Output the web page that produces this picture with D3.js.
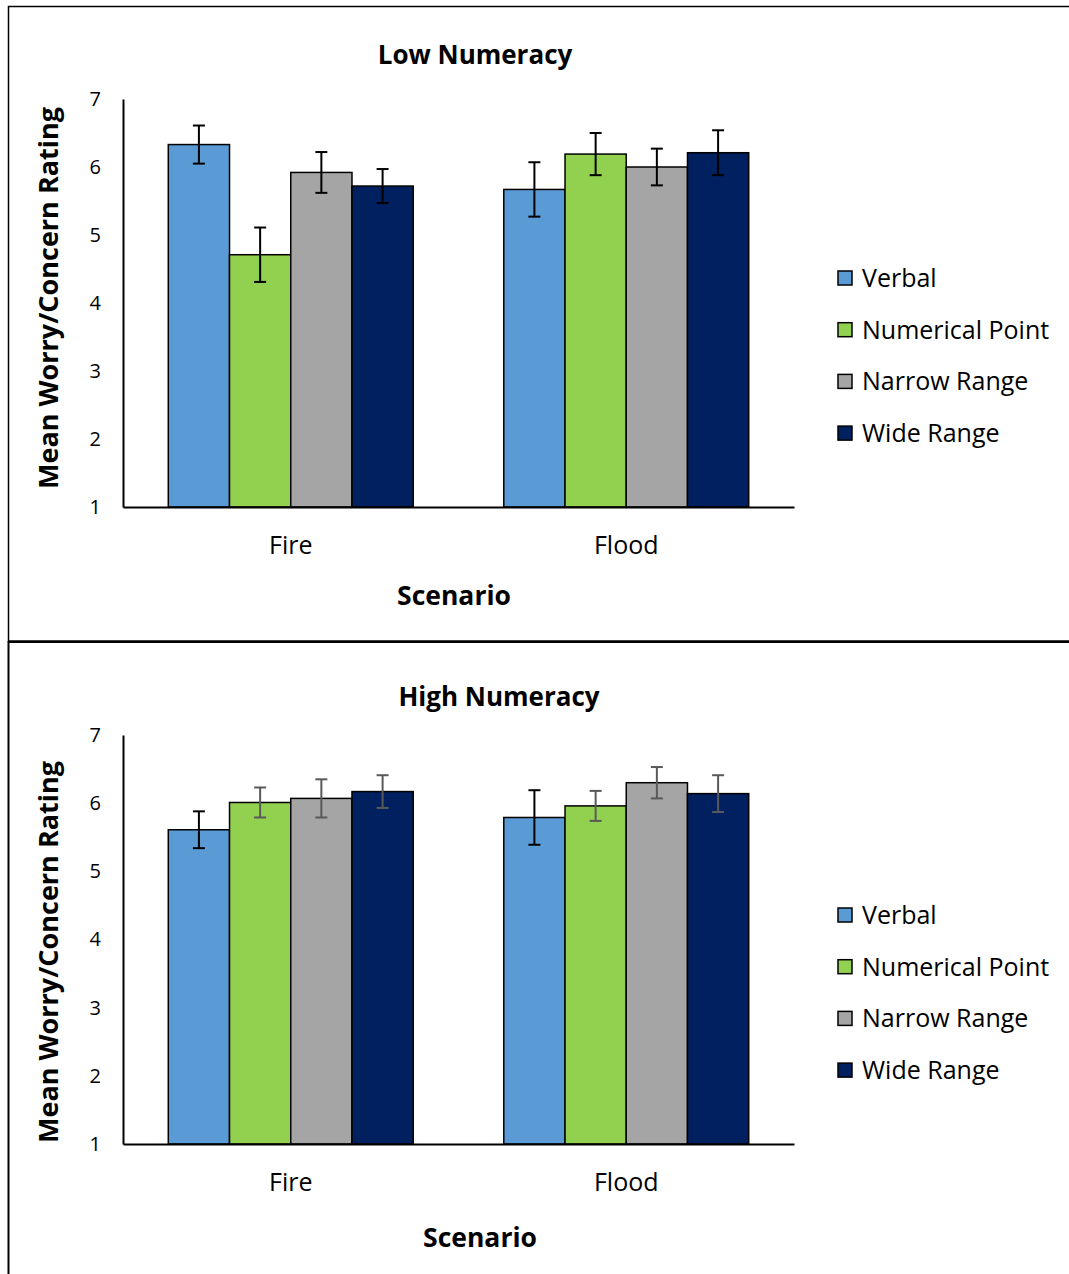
<!DOCTYPE html>
<html>
<head>
<meta charset="utf-8">
<script src="https://cdn.jsdelivr.net/npm/d3@7"></script>
<style>
  body { margin: 0; background: #fff; }
  text { font-family: "Open Sans", sans-serif; fill: #000; }
</style>
</head>
<body>
<svg id="chart" width="1069" height="1274"></svg>
<script>
var categories = ["Fire", "Flood"];
var series = ["Verbal", "Numerical Point", "Narrow Range", "Wide Range"];
var colors = ["#5b9bd5", "#92d050", "#a5a5a5", "#002060"];
var yTicks = [1, 2, 3, 4, 5, 6, 7];

// means per scenario, in series order
var lowFire = [6.33, 4.71, 5.92, 5.72];
var lowFlood = [5.67, 6.19, 6.00, 6.21];
var lowFireErr = [0.28, 0.40, 0.30, 0.25];
var lowFloodErr = [0.40, 0.31, 0.27, 0.33];

var highFire = [5.61, 6.01, 6.07, 6.17];
var highFlood = [5.79, 5.96, 6.30, 6.14];
var highFireErr = [0.27, 0.22, 0.28, 0.24];
var highFloodErr = [0.40, 0.22, 0.23, 0.27];

var svg = d3.select("#chart");

// panel frames
svg.append("path")
  .attr("d", "M1069,6.5 H8.5 V641 H1069")
  .attr("fill", "none").attr("stroke", "#000").attr("stroke-width", 1.5);
svg.append("path")
  .attr("d", "M1069,642 H8.5 V1274")
  .attr("fill", "none").attr("stroke", "#000").attr("stroke-width", 2);

drawPanel({
  top: 99, bottom: 507, left: 123, right: 794,
  title: "Low Numeracy", titleX: 475, titleY: 64,
  xLabelX: 454, xLabelY: 605, catY: 554, yLabelY: 298,
  legendY: 278,
  means: [lowFire, lowFlood], errs: [lowFireErr, lowFloodErr],
  errColors: ["#000", "#000", "#000", "#000"]
});

drawPanel({
  top: 735, bottom: 1144, left: 123, right: 794,
  title: "High Numeracy", titleX: 499, titleY: 706,
  xLabelX: 480, xLabelY: 1247, catY: 1191, yLabelY: 952,
  legendY: 915,
  means: [highFire, highFlood], errs: [highFireErr, highFloodErr],
  errColors: ["#000", "#595959", "#595959", "#595959"]
});

function drawPanel(o) {
  var g = svg.append("g");

  var x0 = d3.scaleBand().domain(categories).range([o.left, o.right])
    .paddingInner(0.27).paddingOuter(0.135);
  var x1 = d3.scaleBand().domain(series).range([0, x0.bandwidth()]);
  var y = d3.scaleLinear().domain([1, 7]).range([o.bottom, o.top]);

  var rows = [];
  categories.forEach(function(c, ci) {
    series.forEach(function(s, si) {
      rows.push({ cat: c, s: s, si: si, v: o.means[ci][si], e: o.errs[ci][si] });
    });
  });

  // bars
  g.append("g").selectAll("rect")
    .data(rows).enter().append("rect")
    .attr("x", d => x0(d.cat) + x1(d.s))
    .attr("y", d => y(d.v))
    .attr("width", x1.bandwidth())
    .attr("height", d => y(1) - y(d.v))
    .attr("fill", d => colors[d.si])
    .attr("stroke", "#000")
    .attr("stroke-width", 1.5);

  // error bars
  var eb = g.append("g").selectAll("g")
    .data(rows).enter().append("g")
    .attr("stroke", d => o.errColors[d.si])
    .attr("stroke-width", 2);
  eb.append("line")
    .attr("x1", d => x0(d.cat) + x1(d.s) + x1.bandwidth() / 2)
    .attr("x2", d => x0(d.cat) + x1(d.s) + x1.bandwidth() / 2)
    .attr("y1", d => y(d.v + d.e))
    .attr("y2", d => y(d.v - d.e));
  [1, -1].forEach(function(sign) {
    eb.append("line")
      .attr("x1", d => x0(d.cat) + x1(d.s) + x1.bandwidth() / 2 - 6)
      .attr("x2", d => x0(d.cat) + x1(d.s) + x1.bandwidth() / 2 + 6)
      .attr("y1", d => y(d.v + sign * d.e))
      .attr("y2", d => y(d.v + sign * d.e));
  });

  // y axis
  var yAxis = g.append("g")
    .attr("transform", "translate(" + o.left + ",0)")
    .call(d3.axisLeft(y).tickValues(yTicks).tickSize(0).tickPadding(22).tickFormat(d3.format("d")));
  yAxis.select(".domain").attr("stroke", "#000").attr("stroke-width", 2);
  yAxis.selectAll("text").style("font-size", "20px").attr("fill", "#000");

  // x axis
  var xAxis = g.append("g")
    .attr("transform", "translate(0," + o.bottom + ")")
    .call(d3.axisBottom(x0).tickSize(0).tickPadding(0));
  xAxis.select(".domain").attr("stroke", "#000").attr("stroke-width", 2);
  xAxis.selectAll("text").remove();
  g.append("g").selectAll("text")
    .data(categories).enter().append("text")
    .attr("x", d => x0(d) + x0.bandwidth() / 2)
    .attr("y", o.catY)
    .attr("text-anchor", "middle")
    .style("font-size", "25px")
    .text(d => d);

  // titles
  g.append("text")
    .attr("x", o.titleX).attr("y", o.titleY)
    .attr("text-anchor", "middle")
    .style("font-size", "26px").style("font-weight", "bold")
    .text(o.title);
  g.append("text")
    .attr("x", o.xLabelX).attr("y", o.xLabelY)
    .attr("text-anchor", "middle")
    .style("font-size", "26.5px").style("font-weight", "bold")
    .text("Scenario");
  g.append("text")
    .attr("transform", "translate(58," + o.yLabelY + ") rotate(-90)")
    .attr("text-anchor", "middle")
    .style("font-size", "27px").style("font-weight", "bold")
    .text("Mean Worry/Concern Rating");

  // legend
  var leg = g.append("g").selectAll("g")
    .data(series).enter().append("g")
    .attr("transform", (d, i) => "translate(838," + (o.legendY + i * 51.7) + ")");
  leg.append("rect")
    .attr("x", 0).attr("y", -7).attr("width", 14).attr("height", 14)
    .attr("fill", (d, i) => colors[i])
    .attr("stroke", "#000").attr("stroke-width", 1.5);
  leg.append("text")
    .attr("x", 24).attr("y", 9)
    .style("font-size", "25px")
    .text(d => d);
}
</script>
</body>
</html>
